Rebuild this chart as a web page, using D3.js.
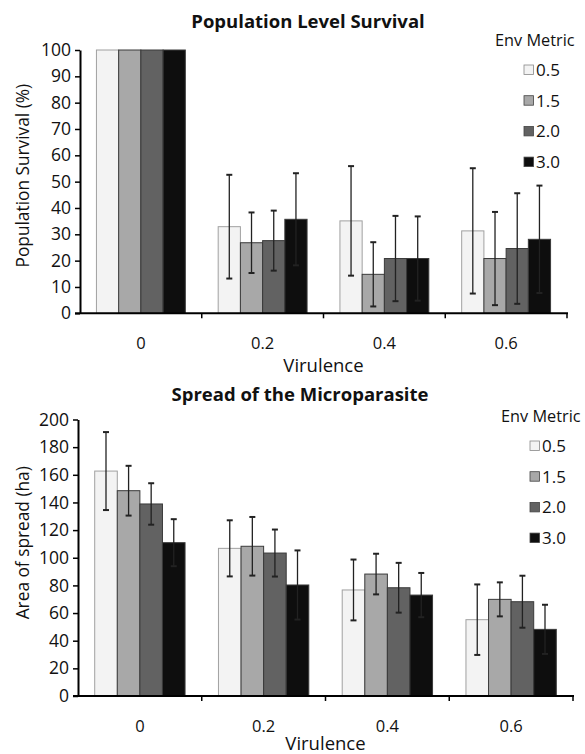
<!DOCTYPE html>
<html>
<head>
<meta charset="utf-8">
<script src="https://cdn.jsdelivr.net/npm/d3@7/dist/d3.min.js"></script>
<style>
  body { margin: 0; background: #fff; }
  svg text { font-family: "Open Sans", "DejaVu Sans", sans-serif; fill: #111; }
</style>
</head>
<body>
<svg id="chart" width="585" height="754"></svg>
<script>
// categories
const virulence = ["0", "0.2", "0.4", "0.6"];
const envMetrics = ["0.5", "1.5", "2.0", "3.0"];
const fills = ["#f3f3f3", "#a8a8a8", "#626262", "#0e0e0e"];

// population survival (%), one row per env metric, columns = virulence
const survivalMean = [
  [100, 32.9, 35.1, 31.3],
  [100, 26.8, 14.8, 20.8],
  [100, 27.6, 20.8, 24.6],
  [100, 35.7, 20.8, 28.1]
];
const survivalErr = [
  [0, 19.7, 20.8, 23.8],
  [0, 11.5, 12.2, 17.7],
  [0, 11.4, 16.2, 21.0],
  [0, 17.5, 16.0, 20.4]
];
const survivalTicks = d3.range(0, 101, 10);

// area of spread (ha)
const spreadMean = [
  [162.7, 106.8, 76.7, 55.2],
  [148.5, 108.3, 88.2, 69.9],
  [138.9, 103.4, 78.3, 68.2],
  [110.9, 80.3, 73.0, 48.2]
];
const spreadErr = [
  [28.2, 20.3, 22.0, 25.5],
  [18.0, 21.2, 14.7, 12.3],
  [15.0, 17.0, 18.0, 18.8],
  [17.0, 25.0, 16.0, 17.8]
];
const spreadTicks = d3.range(0, 201, 20);

const svg = d3.select("#chart");

const drawPanel = (p) => {
  const x0 = d3.scaleBand().domain(virulence).range([p.left, p.right]);
  const bw = x0.bandwidth();
  const x1 = d3.scaleBand().domain(envMetrics).range([bw * 0.135, bw * 0.865]);
  const y = d3.scaleLinear().domain([0, p.max]).range([p.bottom, p.top]);

  const g = svg.append("g");

  // bars
  const rows = [];
  envMetrics.forEach((m, i) => {
    virulence.forEach((v, j) => {
      rows.push({ m: m, v: v, i: i, mean: p.mean[i][j], err: p.err[i][j] });
    });
  });
  g.selectAll(".bar")
    .data(rows)
    .enter()
    .append("rect")
    .attr("x", (d) => x0(d.v) + x1(d.m))
    .attr("y", (d) => y(d.mean))
    .attr("width", x1.bandwidth())
    .attr("height", (d) => y(0) - y(d.mean))
    .attr("fill", (d) => fills[d.i])
    .attr("stroke", (d) => (d.i === 0 ? "#a0a0a0" : "#3a3a3a"))
    .attr("stroke-width", 1);

  // error bars
  const eb = g.selectAll(".err")
    .data(rows.filter((d) => d.err > 0))
    .enter()
    .append("g")
    .attr("stroke", "#222")
    .attr("stroke-width", 1.3);
  const cx = (d) => x0(d.v) + x1(d.m) + x1.bandwidth() / 2;
  eb.append("line")
    .attr("x1", cx).attr("x2", cx)
    .attr("y1", (d) => y(d.mean + d.err))
    .attr("y2", (d) => y(d.mean - d.err));
  eb.append("line")
    .attr("x1", (d) => cx(d) - 3).attr("x2", (d) => cx(d) + 3)
    .attr("y1", (d) => y(d.mean + d.err)).attr("y2", (d) => y(d.mean + d.err))
    .attr("stroke-width", 2);
  eb.append("line")
    .attr("x1", (d) => cx(d) - 3).attr("x2", (d) => cx(d) + 3)
    .attr("y1", (d) => y(d.mean - d.err)).attr("y2", (d) => y(d.mean - d.err))
    .attr("stroke-width", 2);

  // y axis
  const yAxis = g.append("g")
    .attr("transform", `translate(${p.left},0)`)
    .call(d3.axisLeft(y).tickValues(p.ticks).tickSize(5).tickPadding(4).tickSizeOuter(0));
  yAxis.select(".domain").attr("stroke", "#000").attr("stroke-width", 2);
  yAxis.selectAll(".tick line").attr("stroke", "#000").attr("stroke-width", 1.5);
  yAxis.selectAll(".tick text").style("font-size", "17.5px");

  // x axis: ticks at category boundaries
  const boundaries = virulence.map((v) => x0(v)).concat([p.right]);
  g.append("line")
    .attr("x1", p.left - 5).attr("x2", p.right + 1)
    .attr("y1", y(0)).attr("y2", y(0))
    .attr("stroke", "#000").attr("stroke-width", 2);
  g.selectAll(".xtick")
    .data(boundaries.slice(1))
    .enter()
    .append("line")
    .attr("x1", (d) => d).attr("x2", (d) => d)
    .attr("y1", y(0)).attr("y2", y(0) + 5)
    .attr("stroke", "#000").attr("stroke-width", 1.5);
  g.selectAll(".xlabel")
    .data(virulence)
    .enter()
    .append("text")
    .attr("x", (d) => x0(d) + bw / 2)
    .attr("y", y(0) + p.xLabelDy)
    .attr("text-anchor", "middle")
    .style("font-size", "16.5px")
    .text((d) => d);
  g.append("text")
    .attr("x", (p.left + p.right) / 2)
    .attr("y", y(0) + p.xTitleDy)
    .attr("text-anchor", "middle")
    .style("font-size", "18.5px")
    .text("Virulence");

  // y title
  g.append("text")
    .attr("transform", `translate(29,${(p.top + p.bottom) / 2 + p.yTitleShift}) rotate(-90)`)
    .attr("text-anchor", "middle")
    .style("font-size", "17.3px")
    .text(p.yTitle);

  // title
  g.append("text")
    .attr("x", p.titleX)
    .attr("y", p.titleY)
    .attr("text-anchor", "middle")
    .style("font-size", "18.5px")
    .style("font-weight", "bold")
    .text(p.title);

  // legend
  const lg = g.append("g").attr("transform", `translate(${p.legX},${p.legY})`);
  lg.append("text")
    .attr("x", -29)
    .attr("y", 0)
    .style("font-size", "16.3px")
    .text("Env Metric");
  const item = lg.selectAll(".item")
    .data(envMetrics)
    .enter()
    .append("g")
    .attr("transform", (d, i) => `translate(0,${30 + i * 30.7})`);
  item.append("rect")
    .attr("x", 0).attr("y", -11)
    .attr("width", 9.5).attr("height", 9.5)
    .attr("fill", (d, i) => fills[i])
    .attr("stroke", (d, i) => (i === 0 ? "#888" : "#444"))
    .attr("stroke-width", 0.8);
  item.append("text")
    .attr("x", 12)
    .attr("y", 0)
    .style("font-size", "17px")
    .text((d) => d);
};

drawPanel({
  left: 80, right: 567, top: 50, bottom: 313.3, max: 100,
  mean: survivalMean, err: survivalErr, ticks: survivalTicks,
  xLabelDy: 36, xTitleDy: 59, yTitleShift: -6,
  yTitle: "Population Survival (%)",
  title: "Population Level Survival", titleX: 308, titleY: 28,
  legX: 524, legY: 46
});

drawPanel({
  left: 78, right: 573, top: 419.5, bottom: 696, max: 200,
  mean: spreadMean, err: spreadErr, ticks: spreadTicks,
  xLabelDy: 36, xTitleDy: 54, yTitleShift: -15,
  yTitle: "Area of spread (ha)",
  title: "Spread of the Microparasite", titleX: 300, titleY: 401,
  legX: 530, legY: 422
});
</script>
</body>
</html>
